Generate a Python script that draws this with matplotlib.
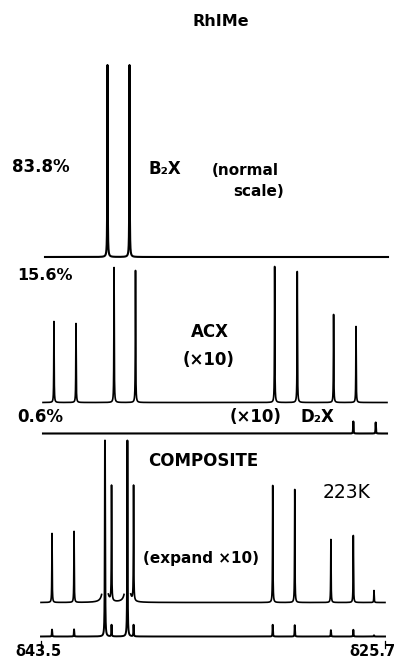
import numpy as np
import matplotlib
matplotlib.use("Agg")
import matplotlib.pyplot as plt

# ---------------- data (ppm positions, peak heights in drawing units) ----------
b2x_ppm = [40.06, 38.92]
b2x_height = [192, 192]

acx_ppm = [42.83, 41.69, 39.72, 38.61, 31.41, 30.24, 28.36, 27.20]
acx_height = [81, 79, 135, 132, 136, 131, 88, 76]

d2x_ppm = [27.34, 26.18]
d2x_height = [12, 11]

comp_major_ppm = [40.19, 39.03]
comp_major_height = [196, 196]
comp_minor_ppm = [42.93, 41.79, 39.85, 38.71, 31.51, 30.37, 28.50, 27.34, 26.27]
comp_minor_height = [6.9, 7.1, 11.5, 11.5, 11.7, 11.3, 6.3, 6.7, 1.2]

expand_factor = 10
axis_labels = ["δ43.5", "δ25.7"]
axis_ppm = [43.5, 25.7]

# ---------------- layout ----------------
W, H = 398, 661
fig = plt.figure(figsize=(W / 100, H / 100), dpi=100)
ax = fig.add_axes([0, 0, 1, 1])
px_per_ppm = 344 / 17.8
ppm_left = 43.5 + 41 / px_per_ppm
ppm_right = 43.5 - (W - 41) / px_per_ppm
ax.set_xlim(ppm_left, ppm_right)
ax.set_ylim(H, 0)
ax.axis("off")

gamma = 0.011  # Lorentzian half width (ppm)
lw = 1.2


def spectrum(x, pos, hts):
    y = np.zeros_like(x)
    for p, h in zip(pos, hts):
        y += h * gamma ** 2 / ((x - p) ** 2 + gamma ** 2)
    return y


def grid(a, b):
    return np.linspace(a, b, 40000)


def xpix(p):
    return 43.5 - (p - 41) / px_per_ppm


# B2X trace
x = grid(xpix(45), xpix(388))
ax.plot(x, 257 - spectrum(x, b2x_ppm, b2x_height), color="black", lw=lw + 0.3)

# ACX trace (x10)
x = grid(xpix(43), xpix(387))
ax.plot(x, 402.5 - spectrum(x, acx_ppm, acx_height), color="black", lw=lw)

# D2X trace (x10)
x = grid(xpix(43), xpix(387))
ax.plot(x, 433.5 - spectrum(x, d2x_ppm, d2x_height), color="black", lw=lw + 0.3)

# Composite expanded
x = grid(xpix(41), xpix(385))
major = spectrum(x, comp_major_ppm, comp_major_height)
minor = spectrum(x, comp_minor_ppm, comp_minor_height)
exp_major = expand_factor * major
expanded = expand_factor * minor + exp_major
expanded = np.where(exp_major > 8, np.nan, expanded)
ax.plot(x, 602.5 - expanded, color="black", lw=lw)

# Composite normal
ax.plot(x, 636.5 - (major + minor), color="black", lw=lw + 0.2)

# axis end ticks
for p in axis_ppm:
    ax.plot([p, p], [641, 648], color="black", lw=0.9)

# ---------------- text ----------------
def T(xp, yp, s, **kw):
    kw.setdefault("fontweight", "bold")
    kw.setdefault("fontsize", 11.5)
    kw.setdefault("va", "center")
    kw.setdefault("ha", "left")
    fig.text(xp / W, 1 - yp / H, s, family="DejaVu Sans", color="black", **kw)

T(221, 22, "RhIMe", ha="center", fontsize=11.5)
T(12, 167, "83.8%", fontsize=12)
T(148, 169, "B₂X", fontsize=12)
T(212, 170, "(normal", fontsize=11)
T(233, 192, "scale)", fontsize=11)
T(17, 275, "15.6%", fontsize=11.5)
T(210, 332, "ACX", ha="center", fontsize=12)
T(209, 360, "(×10)", ha="center", fontsize=12)
T(17, 417, "0.6%", fontsize=12)
T(230, 417, "(×10)", fontsize=12)
T(300, 417, "D₂X", fontsize=12)
T(148, 461, "COMPOSITE", fontsize=12)
T(323, 493, "223K", fontweight="normal", fontsize=13.5)
T(143, 558, "(expand ×10)", fontsize=11)
T(15, 652, axis_labels[0], fontsize=10.5)
T(395, 652, axis_labels[1], ha="right", fontsize=10.5)

fig.savefig("out.png", dpi=100, facecolor="white")
